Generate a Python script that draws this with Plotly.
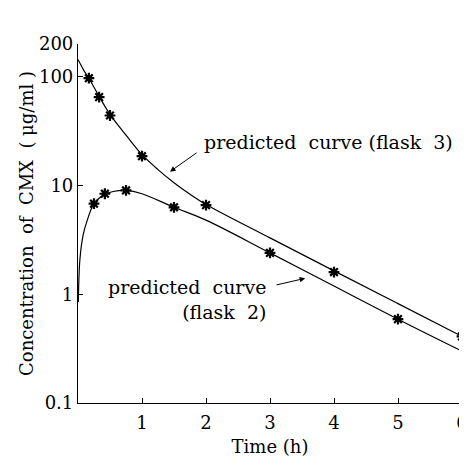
import math
import plotly.graph_objects as go

# Measured points
t3_obs = [0.17, 0.33, 0.5, 1.0, 2.0, 4.0, 6.0]
c3_obs = [97, 65, 44, 18.6, 6.6, 1.6, 0.41]
t2_obs = [0.25, 0.42, 0.75, 1.5, 3.0, 5.0]
c2_obs = [6.8, 8.4, 9.0, 6.3, 2.4, 0.59]

# Predicted curves
t3_fit = [0.0, 0.1, 0.17, 0.25, 0.33, 0.5, 0.75, 1.0, 1.25, 1.5, 1.75, 2.0, 3.0, 4.0, 5.0, 6.0]
c3_fit = [144, 112, 97, 80, 66, 45, 29, 19.2, 14.0, 10.6, 8.3, 6.7, 3.3, 1.64, 0.82, 0.41]
t2_fit = [0.005, 0.03, 0.08, 0.135, 0.25, 0.4, 0.55, 0.75, 1.0, 1.5, 2.0, 3.0, 4.0, 5.0, 6.0]
c2_fit = [0.85, 2.1, 3.5, 4.6, 6.8, 8.2, 8.8, 9.0, 8.4, 6.3, 4.8, 2.4, 1.19, 0.59, 0.30]

x_ticks = [1, 2, 3, 4, 5, 6]
y_ticks = [0.1, 1, 10, 100, 200]
y_tick_text = ["0.1", "1", "10", "100", "200"]

FONT = "DejaVu Serif"
L = math.log10

fig = go.Figure()
fig.add_trace(go.Scatter(x=t3_fit, y=c3_fit, mode="lines", line=dict(color="black", width=1.2, shape="spline"), showlegend=False))
fig.add_trace(go.Scatter(x=t2_fit, y=c2_fit, mode="lines", line=dict(color="black", width=1.2, shape="spline"), showlegend=False))
for tx, cy in [(t3_obs, c3_obs), (t2_obs, c2_obs)]:
    fig.add_trace(go.Scatter(x=tx, y=cy, mode="markers", cliponaxis=False,
                             marker=dict(symbol="asterisk", size=9, color="black",
                                         line=dict(color="black", width=2.2)),
                             showlegend=False))

fig.add_annotation(x=1.4375, y=L(13.4), ax=1.875, ay=L(20.4), xref="x", yref="y", axref="x", ayref="y",
                   text="", showarrow=True, arrowhead=2, arrowsize=1.1, arrowwidth=1, arrowcolor="black")
fig.add_annotation(x=3.55, y=L(1.40), ax=3.08, ay=L(1.21), xref="x", yref="y", axref="x", ayref="y",
                   text="", showarrow=True, arrowhead=2, arrowsize=1.1, arrowwidth=1, arrowcolor="black")
fig.add_annotation(x=1.94, y=L(25.2), xref="x", yref="y", xanchor="left", yanchor="middle",
                   text="predicted  curve (flask  3)", showarrow=False,
                   font=dict(family=FONT, size=19, color="black"))
fig.add_annotation(x=2.97, y=L(0.90), xref="x", yref="y", xanchor="right", yanchor="middle", align="right",
                   text="predicted  curve<br>(flask  2)", showarrow=False,
                   font=dict(family=FONT, size=19, color="black"))

# page body adds an 8px offset; margins compensate so the plot area lands at x 78-462, y 44-403
fig.update_layout(
    width=459, height=455,
    margin=dict(l=70, r=5, t=36, b=60),
    plot_bgcolor="white", paper_bgcolor="white",
    font=dict(family=FONT, size=17, color="black"),
)
fig.update_xaxes(range=[0, 6], tickvals=x_ticks, ticktext=[str(v) for v in x_ticks],
                 ticks="inside", ticklen=5, tickcolor="black", showline=True, linecolor="black", linewidth=1.2,
                 showgrid=False, zeroline=False, automargin=False, ticklabeloverflow="allow",
                 ticklabelstandoff=3,
                 title=dict(text="Time (h)", font=dict(family=FONT, size=18), standoff=8),
                 tickfont=dict(family=FONT, size=18))
fig.update_yaxes(type="log", range=[-1, 2.30103], tickvals=y_ticks, ticktext=y_tick_text,
                 ticks="inside", ticklen=5, tickcolor="black", showline=True, linecolor="black", linewidth=1.2,
                 showgrid=False, zeroline=False, automargin=False,
                 title=dict(text="Concentration  of  CMX  ( μg/ml )", font=dict(family=FONT, size=18), standoff=0),
                 tickfont=dict(family=FONT, size=18))

fig.write_html("out.html")
